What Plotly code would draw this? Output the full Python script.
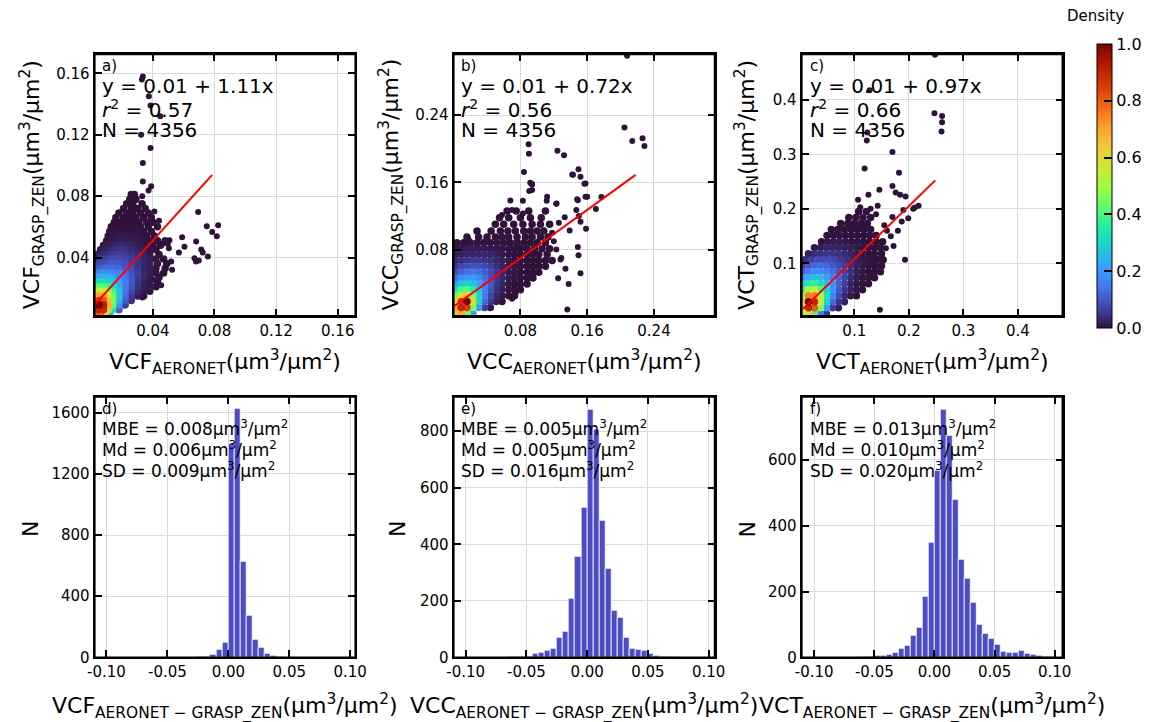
import plotly.graph_objects as go

W, H = 1151, 722
FONT = "DejaVu Sans"

# ---------------- data ----------------
# scatter clouds: rows of (y, [(x, density), ...])
A_ROWS = [
    (0.003, [(0.003, 0.80), (0.006, 0.78), (0.009, 0.55), (0.012, 0.25)]),
    (0.006, [(0.002, 0.72), (0.005, 0.90), (0.008, 0.88), (0.011, 0.62), (0.014, 0.32), (0.018, 0.10)]),
    (0.009, [(0.002, 0.70), (0.005, 1.00), (0.008, 0.92), (0.011, 0.68), (0.014, 0.42), (0.018, 0.18), (0.022, 0.06)]),
    (0.012, [(0.002, 0.62), (0.005, 0.85), (0.008, 0.80), (0.011, 0.64), (0.014, 0.45), (0.018, 0.24), (0.022, 0.10), (0.026, 0.04)]),
    (0.015, [(0.002, 0.55), (0.005, 0.70), (0.008, 0.70), (0.011, 0.58), (0.014, 0.44), (0.018, 0.26), (0.022, 0.12), (0.026, 0.05), (0.030, 0.02), (0.034, 0.0)]),
    (0.018, [(0.002, 0.45), (0.005, 0.55), (0.008, 0.55), (0.011, 0.48), (0.014, 0.38), (0.018, 0.27), (0.022, 0.14), (0.026, 0.07), (0.030, 0.03), (0.034, 0.01), (0.038, 0.0)]),
    (0.021, [(0.002, 0.34), (0.005, 0.42), (0.008, 0.42), (0.011, 0.38), (0.014, 0.32), (0.018, 0.24), (0.022, 0.15), (0.026, 0.09), (0.030, 0.04), (0.034, 0.02), (0.038, 0.01), (0.042, 0.0)]),
    (0.024, [(0.002, 0.25), (0.005, 0.31), (0.008, 0.32), (0.011, 0.30), (0.014, 0.27), (0.018, 0.21), (0.022, 0.15), (0.026, 0.10), (0.030, 0.05), (0.034, 0.02), (0.038, 0.01), (0.043, 0.0)]),
    (0.027, [(0.002, 0.18), (0.005, 0.22), (0.008, 0.24), (0.011, 0.24), (0.014, 0.22), (0.018, 0.18), (0.022, 0.14), (0.026, 0.10), (0.030, 0.05), (0.034, 0.03), (0.038, 0.01), (0.044, 0.0)]),
    (0.030, [(0.002, 0.13), (0.005, 0.16), (0.008, 0.18), (0.011, 0.18), (0.014, 0.17), (0.018, 0.16), (0.022, 0.13), (0.026, 0.09), (0.030, 0.06), (0.034, 0.03), (0.038, 0.015), (0.042, 0.005), (0.047, 0.0)]),
    (0.033, [(0.002, 0.08), (0.005, 0.10), (0.008, 0.12), (0.011, 0.13), (0.014, 0.13), (0.018, 0.12), (0.022, 0.10), (0.026, 0.08), (0.030, 0.05), (0.034, 0.03), (0.038, 0.015), (0.042, 0.005), (0.048, 0.0)]),
    (0.036, [(0.002, 0.05), (0.005, 0.07), (0.008, 0.08), (0.011, 0.09), (0.014, 0.10), (0.018, 0.10), (0.022, 0.08), (0.026, 0.07), (0.030, 0.05), (0.034, 0.03), (0.038, 0.015), (0.043, 0.005), (0.049, 0.0)]),
    (0.039, [(0.003, 0.03), (0.006, 0.05), (0.009, 0.06), (0.012, 0.07), (0.015, 0.08), (0.018, 0.08), (0.022, 0.07), (0.026, 0.06), (0.030, 0.04), (0.034, 0.03), (0.038, 0.015), (0.042, 0.005), (0.047, 0.0)]),
    (0.042, [(0.004, 0.02), (0.007, 0.03), (0.010, 0.04), (0.013, 0.05), (0.016, 0.06), (0.019, 0.06), (0.022, 0.055), (0.026, 0.045), (0.030, 0.035), (0.034, 0.02), (0.038, 0.01), (0.044, 0.0)]),
    (0.045, [(0.006, 0.01), (0.009, 0.02), (0.012, 0.03), (0.015, 0.04), (0.018, 0.045), (0.022, 0.045), (0.026, 0.035), (0.030, 0.025), (0.034, 0.015), (0.038, 0.008), (0.042, 0.0)]),
    (0.048, [(0.008, 0.01), (0.011, 0.015), (0.014, 0.02), (0.017, 0.03), (0.020, 0.035), (0.024, 0.03), (0.028, 0.02), (0.032, 0.012), (0.036, 0.006), (0.040, 0.0), (0.045, 0.0)]),
    (0.051, [(0.010, 0.005), (0.013, 0.01), (0.016, 0.015), (0.019, 0.02), (0.022, 0.02), (0.026, 0.015), (0.030, 0.01), (0.034, 0.005), (0.038, 0.0), (0.043, 0.0), (0.048, 0.0)]),
    (0.054, [(0.011, 0.0), (0.014, 0.005), (0.017, 0.01), (0.020, 0.012), (0.024, 0.01), (0.028, 0.008), (0.032, 0.004), (0.036, 0.0), (0.041, 0.0)]),
    (0.057, [(0.012, 0.0), (0.015, 0.004), (0.018, 0.006), (0.022, 0.006), (0.026, 0.005), (0.030, 0.003), (0.034, 0.0), (0.039, 0.0)]),
    (0.060, [(0.013, 0.0), (0.016, 0.0), (0.020, 0.003), (0.024, 0.003), (0.028, 0.002), (0.032, 0.0), (0.037, 0.0), (0.043, 0.0)]),
    (0.063, [(0.015, 0.0), (0.019, 0.0), (0.023, 0.0), (0.027, 0.0), (0.031, 0.0), (0.036, 0.0), (0.040, 0.0)]),
    (0.066, [(0.016, 0.0), (0.021, 0.0), (0.025, 0.0), (0.029, 0.0), (0.034, 0.0), (0.039, 0.0)]),
    (0.069, [(0.018, 0.0), (0.023, 0.0), (0.027, 0.0), (0.032, 0.0), (0.037, 0.0)]),
    (0.072, [(0.021, 0.0), (0.026, 0.0), (0.030, 0.0), (0.035, 0.0)]),
    (0.075, [(0.023, 0.0), (0.027, 0.0), (0.033, 0.0)]),
    (0.078, [(0.025, 0.0), (0.029, 0.0)]),
    (0.081, [(0.026, 0.0), (0.028, 0.0)]),
]
A_OUT = [
    (0.0335, 0.158), (0.0329, 0.156), (0.0374, 0.145), (0.0385, 0.139), (0.0448, 0.132),
    (0.0324, 0.120), (0.0385, 0.1114), (0.0335, 0.1016), (0.0335, 0.0896), (0.0372, 0.0836),
    (0.0389, 0.0864), (0.0331, 0.080), (0.0257, 0.0766), (0.059, 0.0532), (0.0681, 0.0504),
    (0.0694, 0.0696), (0.075, 0.0604), (0.0824, 0.0611), (0.0785, 0.0566), (0.0815, 0.0538),
    (0.0714, 0.0453), (0.0724, 0.0432), (0.0757, 0.0406), (0.067, 0.0396), (0.0698, 0.038),
    (0.068, 0.0374), (0.0605, 0.047), (0.0569, 0.0432), (0.0508, 0.0513), (0.0497, 0.049),
    (0.0465, 0.049), (0.0504, 0.046), (0.0519, 0.0374), (0.0525, 0.0321), (0.0454, 0.022),
    (0.0422, 0.030), (0.040, 0.0257), (0.0331, 0.014), (0.0440, 0.0640), (0.0410, 0.0700),
]

B_ROWS = [
    (0.004, [(0.002, 0.60), (0.009, 0.70), (0.016, 0.45), (0.023, 0.20)]),
    (0.011, [(0.002, 0.70), (0.009, 0.90), (0.016, 0.85), (0.023, 0.45), (0.030, 0.20), (0.037, 0.06), (0.044, 0.01)]),
    (0.018, [(0.002, 0.60), (0.009, 0.85), (0.016, 1.00), (0.023, 0.60), (0.030, 0.30), (0.037, 0.12), (0.044, 0.05), (0.051, 0.02), (0.058, 0.0)]),
    (0.025, [(0.002, 0.45), (0.009, 0.60), (0.016, 0.65), (0.023, 0.45), (0.030, 0.30), (0.037, 0.15), (0.044, 0.07), (0.051, 0.03), (0.058, 0.01), (0.066, 0.0), (0.073, 0.0)]),
    (0.032, [(0.002, 0.30), (0.009, 0.40), (0.016, 0.42), (0.023, 0.35), (0.030, 0.25), (0.037, 0.16), (0.044, 0.09), (0.051, 0.04), (0.058, 0.02), (0.066, 0.005), (0.073, 0.0), (0.080, 0.0)]),
    (0.039, [(0.002, 0.20), (0.009, 0.27), (0.016, 0.30), (0.023, 0.27), (0.030, 0.21), (0.037, 0.15), (0.044, 0.10), (0.051, 0.05), (0.058, 0.025), (0.066, 0.01), (0.073, 0.0), (0.080, 0.0), (0.088, 0.0)]),
    (0.046, [(0.002, 0.13), (0.009, 0.18), (0.016, 0.20), (0.023, 0.20), (0.030, 0.17), (0.037, 0.13), (0.044, 0.09), (0.051, 0.055), (0.058, 0.03), (0.066, 0.012), (0.073, 0.004), (0.080, 0.0), (0.088, 0.0), (0.095, 0.0)]),
    (0.053, [(0.002, 0.08), (0.009, 0.11), (0.016, 0.13), (0.023, 0.14), (0.030, 0.13), (0.037, 0.11), (0.044, 0.08), (0.051, 0.05), (0.058, 0.03), (0.066, 0.015), (0.073, 0.005), (0.080, 0.0), (0.088, 0.0), (0.095, 0.0), (0.102, 0.0)]),
    (0.060, [(0.002, 0.05), (0.009, 0.07), (0.016, 0.08), (0.023, 0.09), (0.030, 0.09), (0.037, 0.08), (0.044, 0.06), (0.051, 0.04), (0.058, 0.025), (0.066, 0.012), (0.073, 0.005), (0.080, 0.0), (0.088, 0.0), (0.095, 0.0), (0.102, 0.0), (0.110, 0.0)]),
    (0.067, [(0.002, 0.03), (0.009, 0.04), (0.016, 0.05), (0.023, 0.055), (0.030, 0.055), (0.037, 0.05), (0.044, 0.04), (0.051, 0.03), (0.058, 0.02), (0.066, 0.01), (0.073, 0.004), (0.080, 0.0), (0.088, 0.0), (0.095, 0.0), (0.102, 0.0), (0.110, 0.0), (0.118, 0.0)]),
    (0.074, [(0.002, 0.015), (0.009, 0.02), (0.016, 0.03), (0.023, 0.03), (0.030, 0.03), (0.037, 0.03), (0.044, 0.025), (0.051, 0.02), (0.058, 0.012), (0.066, 0.006), (0.073, 0.002), (0.080, 0.0), (0.088, 0.0), (0.095, 0.0), (0.102, 0.0), (0.112, 0.0)]),
    (0.081, [(0.002, 0.005), (0.009, 0.01), (0.016, 0.012), (0.023, 0.015), (0.030, 0.015), (0.037, 0.015), (0.044, 0.012), (0.051, 0.01), (0.058, 0.006), (0.066, 0.003), (0.073, 0.0), (0.080, 0.0), (0.088, 0.0), (0.097, 0.0), (0.106, 0.0), (0.115, 0.0)]),
    (0.088, [(0.004, 0.0), (0.012, 0.0), (0.020, 0.005), (0.028, 0.005), (0.036, 0.005), (0.044, 0.004), (0.052, 0.003), (0.060, 0.0), (0.068, 0.0), (0.076, 0.0), (0.084, 0.0), (0.092, 0.0), (0.100, 0.0), (0.110, 0.0)]),
    (0.095, [(0.016, 0.0), (0.030, 0.0), (0.040, 0.0), (0.050, 0.0), (0.058, 0.0), (0.066, 0.0), (0.076, 0.0), (0.086, 0.0), (0.094, 0.0), (0.104, 0.0), (0.113, 0.0)]),
    (0.102, [(0.028, 0.0), (0.045, 0.0), (0.056, 0.0), (0.065, 0.0), (0.074, 0.0), (0.084, 0.0), (0.092, 0.0), (0.100, 0.0), (0.108, 0.0)]),
    (0.110, [(0.050, 0.0), (0.060, 0.0), (0.072, 0.0), (0.083, 0.0), (0.094, 0.0), (0.104, 0.0), (0.115, 0.0)]),
    (0.118, [(0.055, 0.0), (0.066, 0.0), (0.080, 0.0), (0.092, 0.0), (0.105, 0.0)]),
    (0.126, [(0.064, 0.0), (0.075, 0.0), (0.090, 0.0), (0.110, 0.0)]),
]
B_OUT = [
    (0.2046, 0.2255), (0.214, 0.2094), (0.2263, 0.2125), (0.2286, 0.2035), (0.0898, 0.2055),
    (0.0902, 0.1941), (0.1244, 0.1976), (0.1323, 0.1922), (0.0843, 0.1725), (0.0918, 0.1596),
    (0.0938, 0.1576), (0.0906, 0.1498), (0.1421, 0.1694), (0.1496, 0.1757), (0.1567, 0.1584),
    (0.160, 0.143), (0.1488, 0.1388), (0.1771, 0.1427), (0.1704, 0.1282), (0.1232, 0.1349),
    (0.1115, 0.138), (0.1488, 0.0831), (0.1496, 0.0733), (0.152, 0.0518), (0.1378, 0.0388),
    (0.1362, 0.0086), (0.1252, 0.0459), (0.128, 0.0682), (0.1586, 0.1047), (0.139, 0.1027),
    (0.1331, 0.1184), (0.2078, 0.3110), (0.068, 0.1385), (0.083, 0.138), (0.083, 0.123),
    (0.070, 0.127), (0.058, 0.121), (0.0285, 0.1015), (0.0156, 0.092), (0.018, 0.092),
    (0.147, 0.127), (0.150, 0.120), (0.152, 0.113), (0.148, 0.140), (0.158, 0.143),
    (0.123, 0.1346), (0.112, 0.143), (0.094, 0.151), (0.094, 0.158), (0.129, 0.070),
    (0.134, 0.057), (0.123, 0.080), (0.070, 0.0215), (0.074, 0.027), (0.143, 0.169),
    (0.152, 0.1666), (0.158, 0.1588), (0.120, 0.090), (0.118, 0.100), (0.126, 0.112),
]

C_ROWS = [
    (0.008, [(0.005, 0.50), (0.016, 0.60), (0.027, 0.40), (0.038, 0.15), (0.049, 0.05)]),
    (0.019, [(0.005, 0.60), (0.016, 0.90), (0.027, 0.80), (0.038, 0.45), (0.049, 0.20), (0.060, 0.06), (0.071, 0.02)]),
    (0.030, [(0.005, 0.60), (0.016, 1.00), (0.027, 0.90), (0.038, 0.55), (0.049, 0.30), (0.060, 0.12), (0.071, 0.05), (0.082, 0.02)]),
    (0.041, [(0.005, 0.50), (0.016, 0.75), (0.027, 0.75), (0.038, 0.50), (0.049, 0.32), (0.060, 0.17), (0.071, 0.08), (0.082, 0.035), (0.093, 0.01), (0.104, 0.0)]),
    (0.052, [(0.005, 0.38), (0.016, 0.50), (0.027, 0.52), (0.038, 0.42), (0.049, 0.30), (0.060, 0.19), (0.071, 0.10), (0.082, 0.05), (0.093, 0.02), (0.104, 0.005), (0.115, 0.0)]),
    (0.063, [(0.005, 0.27), (0.016, 0.34), (0.027, 0.37), (0.038, 0.33), (0.049, 0.26), (0.060, 0.18), (0.071, 0.11), (0.082, 0.06), (0.093, 0.03), (0.104, 0.01), (0.115, 0.0), (0.126, 0.0)]),
    (0.074, [(0.005, 0.18), (0.016, 0.23), (0.027, 0.26), (0.038, 0.25), (0.049, 0.21), (0.060, 0.16), (0.071, 0.11), (0.082, 0.07), (0.093, 0.035), (0.104, 0.015), (0.115, 0.005), (0.126, 0.0), (0.137, 0.0)]),
    (0.085, [(0.005, 0.12), (0.016, 0.15), (0.027, 0.18), (0.038, 0.18), (0.049, 0.16), (0.060, 0.13), (0.071, 0.10), (0.082, 0.07), (0.093, 0.04), (0.104, 0.02), (0.115, 0.008), (0.126, 0.0), (0.137, 0.0), (0.148, 0.0)]),
    (0.096, [(0.005, 0.07), (0.016, 0.10), (0.027, 0.12), (0.038, 0.13), (0.049, 0.12), (0.060, 0.10), (0.071, 0.08), (0.082, 0.06), (0.093, 0.04), (0.104, 0.02), (0.115, 0.01), (0.126, 0.003), (0.137, 0.0), (0.150, 0.0)]),
    (0.107, [(0.010, 0.04), (0.021, 0.06), (0.032, 0.08), (0.043, 0.08), (0.054, 0.08), (0.065, 0.07), (0.076, 0.055), (0.087, 0.04), (0.098, 0.025), (0.109, 0.012), (0.120, 0.005), (0.131, 0.0), (0.142, 0.0), (0.153, 0.0)]),
    (0.118, [(0.016, 0.02), (0.027, 0.035), (0.038, 0.045), (0.049, 0.05), (0.060, 0.05), (0.071, 0.04), (0.082, 0.035), (0.093, 0.025), (0.104, 0.015), (0.115, 0.008), (0.126, 0.0), (0.137, 0.0), (0.150, 0.0)]),
    (0.129, [(0.027, 0.01), (0.038, 0.02), (0.049, 0.025), (0.060, 0.025), (0.071, 0.025), (0.082, 0.02), (0.093, 0.015), (0.104, 0.008), (0.115, 0.004), (0.126, 0.0), (0.137, 0.0), (0.148, 0.0)]),
    (0.140, [(0.040, 0.0), (0.051, 0.01), (0.062, 0.012), (0.073, 0.012), (0.084, 0.01), (0.095, 0.006), (0.106, 0.003), (0.117, 0.0), (0.128, 0.0), (0.140, 0.0), (0.152, 0.0)]),
    (0.151, [(0.050, 0.0), (0.062, 0.0), (0.073, 0.004), (0.084, 0.004), (0.095, 0.002), (0.106, 0.0), (0.117, 0.0), (0.128, 0.0), (0.140, 0.0)]),
    (0.162, [(0.058, 0.0), (0.070, 0.0), (0.082, 0.0), (0.094, 0.0), (0.106, 0.0), (0.118, 0.0), (0.130, 0.0)]),
    (0.173, [(0.075, 0.0), (0.088, 0.0), (0.100, 0.0), (0.112, 0.0), (0.124, 0.0)]),
    (0.184, [(0.090, 0.0), (0.103, 0.0), (0.116, 0.0), (0.130, 0.0)]),
    (0.195, [(0.108, 0.0), (0.122, 0.0)]),
]
C_OUT = [
    (0.248, 0.482), (0.128, 0.417), (0.247, 0.375), (0.261, 0.370), (0.261, 0.3586),
    (0.260, 0.3417), (0.124, 0.340), (0.123, 0.3254), (0.170, 0.304), (0.119, 0.274),
    (0.182, 0.266), (0.146, 0.235), (0.170, 0.242), (0.176, 0.230), (0.184, 0.2257),
    (0.194, 0.2227), (0.211, 0.2027), (0.218, 0.2057), (0.208, 0.200), (0.107, 0.2166),
    (0.126, 0.2257), (0.111, 0.203), (0.143, 0.2057), (0.193, 0.1066), (0.147, 0.0154),
    (0.167, 0.150), (0.172, 0.132), (0.199, 0.183), (0.187, 0.177), (0.190, 0.198),
    (0.160, 0.160), (0.155, 0.170), (0.140, 0.190), (0.130, 0.200), (0.170, 0.185),
    (0.180, 0.160), (0.158, 0.128), (0.150, 0.110), (0.140, 0.095), (0.130, 0.080),
]

# regression lines (intercept used for drawing, slope, x-extent)
FIT_INTERCEPT = [0.0067, 0.012, 0.011]
FIT_SLOPE = [1.11, 0.72, 0.97]
FIT_XSPAN = [(0.0022, 0.0785), (0.0014, 0.218), (0.006, 0.2486)]
EQ_TEXT = ["y = 0.01 + 1.11x", "y = 0.01 + 0.72x", "y = 0.01 + 0.97x"]
R2_TEXT = ["0.57", "0.56", "0.66"]
N_TEXT = ["4356", "4356", "4356"]

# histograms: bin left edges (width 0.005) and counts
D_EDGES = [-0.025, -0.020, -0.015, -0.010, -0.005, 0.000, 0.005, 0.010, 0.015, 0.020, 0.025, 0.030, 0.035, 0.040]
D_COUNTS = [3, 6, 15, 50, 97, 1396, 1625, 625, 271, 116, 62, 25, 12, 4]
E_EDGES = [-0.065, -0.060, -0.055, -0.050, -0.045, -0.040, -0.035, -0.030, -0.025, -0.020, -0.015, -0.010, -0.005,
           0.000, 0.005, 0.010, 0.015, 0.020, 0.025, 0.030, 0.035, 0.040, 0.045, 0.050, 0.055, 0.060, 0.065, 0.070]
E_COUNTS = [4, 4, 1, 3, 12, 15, 23, 31, 69, 92, 208, 357, 528,
            877, 807, 485, 312, 165, 141, 70, 31, 26, 22, 13, 6, 2, 1, 2]
F_EDGES = [-0.060, -0.055, -0.050, -0.045, -0.040, -0.035, -0.030, -0.025, -0.020, -0.015, -0.010, -0.005,
           0.000, 0.005, 0.010, 0.015, 0.020, 0.025, 0.030, 0.035, 0.040, 0.045, 0.050, 0.055, 0.060, 0.065,
           0.070, 0.075, 0.080, 0.085, 0.090, 0.095]
F_COUNTS = [1, 2, 5, 5, 7, 15, 27, 37, 67, 90, 185, 349,
            567, 754, 674, 479, 297, 240, 167, 99, 72, 56, 39, 17, 15, 14,
            20, 10, 7, 4, 2, 1]
BIN_W = 0.005
MBE_TEXT = ["0.008", "0.005", "0.013"]
MD_TEXT = ["0.006", "0.005", "0.010"]
SD_TEXT = ["0.009", "0.016", "0.020"]

VARS = ["VCF", "VCC", "VCT"]
TAGS_TOP = ["a)", "b)", "c)"]
TAGS_BOT = ["d)", "e)", "f)"]

TOP_XRANGE = [[0.0022, 0.1715], [0.0, 0.3128], [0.0036, 0.4818]]
TOP_YRANGE = [[0.0019, 0.1724], [0.0008, 0.3126], [0.0038, 0.483]]
TOP_TICKS = [[0.04, 0.08, 0.12, 0.16], [0.08, 0.16, 0.24], [0.1, 0.2, 0.3, 0.4]]
TOP_TICKTEXT = [["0.04", "0.08", "0.12", "0.16"], ["0.08", "0.16", "0.24"], ["0.1", "0.2", "0.3", "0.4"]]
BOT_XRANGE = [[-0.1097, 0.1043], [-0.110, 0.105], [-0.1104, 0.1065]]
BOT_YRANGE = [[0, 1704], [0, 922], [0, 792]]
BOT_XTICKS = [-0.10, -0.05, 0.0, 0.05, 0.10]
BOT_XTICKTEXT = ["-0.10", "-0.05", "0.00", "0.05", "0.10"]
BOT_YTICKS = [[0, 400, 800, 1200, 1600], [0, 200, 400, 600, 800], [0, 200, 400, 600]]

# ---------------- layout geometry (pixels) ----------------
COL_PX = [(89, 354), (453.7, 719), (807.3, 1072.3)]
ROW_PX = [(55, 320), (401.7, 665.7)]
YTITLE_TOP_X = [26, 391, 752]
YTITLE_BOT_X = [24, 397, 752]
CBAR_LEFT_PX = 1107


def px(x):
    return x / W


def py(y):
    return 1 - y / H


def flatten(rows, outs):
    pts = []
    for y, items in rows:
        for x, d in items:
            pts.append((x, y, d, 7.5))
    for x, y in outs:
        pts.append((x, y, 0.0, 6))
    pts.sort(key=lambda p: p[2])
    return pts


fig = go.Figure()

clouds = [flatten(A_ROWS, A_OUT), flatten(B_ROWS, B_OUT), flatten(C_ROWS, C_OUT)]
for i, pts in enumerate(clouds):
    ax = "" if i == 0 else str(i + 1)
    fig.add_trace(go.Scatter(
        x=[p[0] for p in pts], y=[p[1] for p in pts], mode="markers",
        marker=dict(size=[p[3] for p in pts], color=[p[2] for p in pts], opacity=1,
                    coloraxis="coloraxis", line=dict(width=0)),
        xaxis="x" + ax, yaxis="y" + ax, showlegend=False, hoverinfo="skip"))
    x0, x1 = FIT_XSPAN[i]
    fig.add_trace(go.Scatter(
        x=[x0, x1], y=[FIT_INTERCEPT[i] + FIT_SLOPE[i] * x0, FIT_INTERCEPT[i] + FIT_SLOPE[i] * x1],
        mode="lines", line=dict(color="red", width=2),
        xaxis="x" + ax, yaxis="y" + ax, showlegend=False, hoverinfo="skip"))

hists = [(D_EDGES, D_COUNTS), (E_EDGES, E_COUNTS), (F_EDGES, F_COUNTS)]
for i, (edges, counts) in enumerate(hists):
    ax = str(i + 4)
    fig.add_trace(go.Bar(
        x=[e + BIN_W / 2 for e in edges], y=counts, width=BIN_W,
        marker=dict(color="rgb(76,76,196)", line=dict(color="white", width=0.8)),
        xaxis="x" + ax, yaxis="y" + ax, showlegend=False, hoverinfo="skip"))


def axis_common():
    return dict(showline=True, linecolor="black", linewidth=2, mirror="allticks",
                ticks="inside", ticklen=7, tickwidth=2, tickcolor="black",
                showgrid=True, gridcolor="#dadada", gridwidth=1, zeroline=False,
                tickfont=dict(size=15, color="black", family=FONT), fixedrange=True)


layout = dict(
    width=W, height=H, margin=dict(l=0, r=0, t=0, b=0),
    paper_bgcolor="white", plot_bgcolor="white",
    font=dict(family=FONT, color="black"), showlegend=False, bargap=0,
    coloraxis=dict(
        colorscale="Turbo", cmin=0, cmax=1,
        colorbar=dict(
            x=px(CBAR_LEFT_PX), xanchor="left", y=py(188.3), yanchor="middle",
            len=288 / H, lenmode="fraction", thickness=15, thicknessmode="pixels",
            xpad=0, ypad=0, outlinewidth=1, outlinecolor="black",
            ticks="inside", ticklen=8, tickwidth=1.5, tickcolor="black",
            tickvals=[0, 0.2, 0.4, 0.6, 0.8, 1.0],
            ticktext=["0.0", "0.2", "0.4", "0.6", "0.8", "1.0"],
            tickfont=dict(size=16, color="black", family=FONT))),
)

shapes = []
for i in range(3):
    l, r = COL_PX[i]
    # top row
    t, b = ROW_PX[0]
    n = "" if i == 0 else str(i + 1)
    xa = axis_common()
    xa.update(domain=[px(l), px(r)], range=TOP_XRANGE[i], tickvals=TOP_TICKS[i],
              ticktext=TOP_TICKTEXT[i], anchor="y" + n)
    ya = axis_common()
    ya.update(domain=[py(b), py(t)], range=TOP_YRANGE[i], tickvals=TOP_TICKS[i],
              ticktext=TOP_TICKTEXT[i], anchor="x" + n)
    layout["xaxis" + n] = xa
    layout["yaxis" + n] = ya
    shapes.append(dict(type="rect", xref="x" + n + " domain", yref="y" + n + " domain",
                       x0=0, x1=1, y0=0, y1=1, line=dict(color="black", width=2), layer="above"))
    # bottom row
    t, b = ROW_PX[1]
    n = str(i + 4)
    xa = axis_common()
    xa.update(domain=[px(l), px(r)], range=BOT_XRANGE[i], tickvals=BOT_XTICKS,
              ticktext=BOT_XTICKTEXT, anchor="y" + n)
    ya = axis_common()
    ya.update(domain=[py(b), py(t)], range=BOT_YRANGE[i], tickvals=BOT_YTICKS[i],
              ticktext=[str(v) for v in BOT_YTICKS[i]], anchor="x" + n)
    layout["xaxis" + n] = xa
    layout["yaxis" + n] = ya
    shapes.append(dict(type="rect", xref="x" + n + " domain", yref="y" + n + " domain",
                       x0=0, x1=1, y0=0, y1=1, line=dict(color="black", width=2), layer="above"))

layout["shapes"] = shapes
fig.update_layout(**layout)

UNIT = "(μm<sup>3</sup>/μm<sup>2</sup>)"
ann = []


def text(x, y, s, size, anchor="left", angle=0):
    ann.append(dict(x=px(x), y=py(y), xref="paper", yref="paper", text=s, showarrow=False,
                    xanchor=anchor, yanchor="middle", textangle=angle, borderpad=0,
                    font=dict(size=size, color="black", family=FONT)))


for i in range(3):
    l, r = COL_PX[i]
    cx = (l + r) / 2
    tx = l + 7
    # top panel texts
    text(tx, 67, TAGS_TOP[i], 15)
    text(tx, 87, EQ_TEXT[i], 20)
    text(tx, 110, "<i>r</i><sup>2</sup> = " + R2_TEXT[i], 20)
    text(tx, 132, "N = " + N_TEXT[i], 20)
    # bottom panel texts
    text(tx, 414, TAGS_BOT[i], 15)
    text(tx, 433, "MBE = " + MBE_TEXT[i] + "μm<sup>3</sup>/μm<sup>2</sup>", 17)
    text(tx, 455, "Md = " + MD_TEXT[i] + "μm<sup>3</sup>/μm<sup>2</sup>", 17)
    text(tx, 476, "SD = " + SD_TEXT[i] + "μm<sup>3</sup>/μm<sup>2</sup>", 17)
    # axis titles
    text(cx, 367, VARS[i] + "<sub>AERONET</sub>" + UNIT, 22, anchor="center")
    text(YTITLE_TOP_X[i], 187, VARS[i] + "<sub>GRASP_ZEN</sub>" + UNIT, 22, anchor="center", angle=-90)
    text(cx, 715, VARS[i] + "<sub>AERONET − GRASP_ZEN</sub>" + UNIT, 22, anchor="center")
    text(YTITLE_BOT_X[i], 536, "N", 22, anchor="center", angle=-90)

text(1106, 16, "Density", 15, anchor="center")
fig.update_layout(annotations=ann)

fig.write_html("out.html")
